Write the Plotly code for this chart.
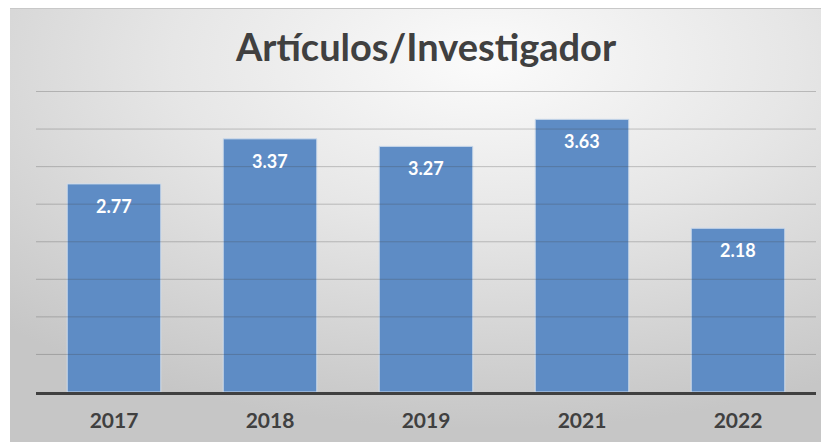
import base64
import plotly.graph_objects as go

categories = ["2017", "2018", "2019", "2021", "2022"]
values = [2.77, 3.37, 3.27, 3.63, 2.18]
value_labels = ["2.77", "3.37", "3.27", "3.63", "2.18"]
grid_values = [0.5, 1.0, 1.5, 2.0, 2.5, 3.0, 3.5, 4.0]
title_text = "Artículos/Investigador"

# page has an 8px body margin, so the figure is drawn 8px smaller/offset
W, H = 821, 437
L, R, T, B = 28, 13, 82, 53
pw, ph = W - L - R, H - T - B

svg = """<svg xmlns='http://www.w3.org/2000/svg' width='819' height='434' viewBox='0 0 819 434' preserveAspectRatio='none'>
<defs><radialGradient id='g' cx='0.58' cy='0.12' r='0.85' fx='0.58' fy='0.12'>
<stop offset='0' stop-color='#fbfbfb'/><stop offset='0.45' stop-color='#e6e6e6'/><stop offset='1' stop-color='#c6c6c6'/>
</radialGradient></defs>
<rect x='0' y='0' width='819' height='434' fill='url(#g)'/>
<line x1='0' y1='0.5' x2='819' y2='0.5' stroke='#c8c8c8' stroke-width='1'/>
</svg>"""
src = "data:image/svg+xml;base64," + base64.b64encode(svg.encode()).decode()

fx0, fy0, fw, fh = 2, 0, 819, 434

fig = go.Figure()
fig.add_trace(go.Bar(
    x=categories, y=values,
    marker=dict(color="#5e8cc5", line=dict(color="#cfdcec", width=1)),
    hoverinfo="skip",
))

for g in grid_values:
    fig.add_shape(type="line", xref="paper", x0=0, x1=1, yref="y", y0=g, y1=g,
                  line=dict(color="rgba(70,70,70,0.28)", width=1), layer="above")

# category axis: numeric-looking strings would be read as indices, so use the category position
for i, (v, t) in enumerate(zip(values, value_labels)):
    fig.add_annotation(x=i, y=v, xref="x", yref="y", text=t, showarrow=False,
                       yanchor="middle", yshift=-22,
                       font=dict(family="Lato", size=18, color="white", weight="bold"))

fig.add_layout_image(dict(
    source=src, xref="paper", yref="paper",
    x=(fx0 - L) / pw, y=(H - B - fy0) / ph,
    sizex=fw / pw, sizey=fh / ph,
    xanchor="left", yanchor="top", sizing="stretch", layer="below",
))

fig.update_layout(
    width=W, height=H,
    margin=dict(l=L, r=R, t=T, b=B, pad=0),
    paper_bgcolor="white", plot_bgcolor="rgba(0,0,0,0)",
    bargap=0.4, showlegend=False,
    title=dict(text=title_text, x=0.5, xref="paper", y=1 - 40 / H, yanchor="middle",
               font=dict(family="Lato", size=38, color="#404040", weight="bold")),
    xaxis=dict(type="category", categoryorder="array", categoryarray=categories,
               range=[-0.5, len(categories) - 0.5],
               showgrid=False, showline=True, linecolor="#404040", linewidth=3,
               ticks="outside", ticklen=8, tickcolor="rgba(0,0,0,0)",
               tickfont=dict(family="Lato", size=21, color="#404040", weight="bold")),
    yaxis=dict(range=[0, 4.02], autorange=False, showgrid=False,
               showticklabels=False, zeroline=False),
)

fig.write_html("out.html")
